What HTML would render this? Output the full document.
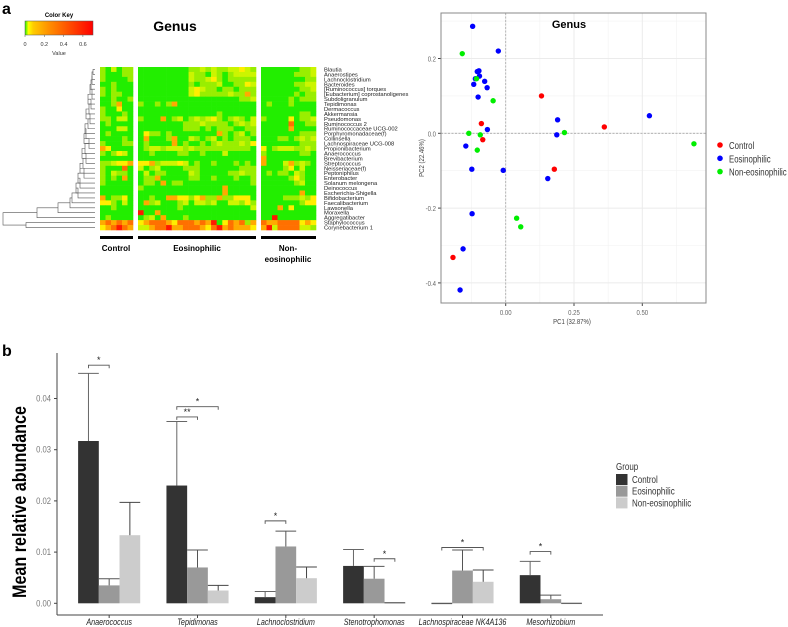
<!DOCTYPE html>
<html><head><meta charset="utf-8"><style>
html,body{margin:0;padding:0;background:#fff;}
svg{display:block;font-family:"Liberation Sans",Arial,sans-serif;}
</style></head><body>
<svg id="fig" width="788" height="627" viewBox="0 0 788 627" xmlns="http://www.w3.org/2000/svg">
<text x="2" y="14" font-size="16" font-weight="bold">a</text>
<text x="2" y="356" font-size="16" font-weight="bold">b</text>
<g id="heat"></g>
<g id="pca"></g>
<g id="bars"></g>
</svg>
<script>
const NS="http://www.w3.org/2000/svg";
function mk(p,t,a,txt){const e=document.createElementNS(NS,t);for(const k in a)e.setAttribute(k,a[k]);if(txt!==undefined)e.textContent=txt;p.appendChild(e);return e;}
function narrow(e,f){const w=e.getComputedTextLength();if(w>0){e.setAttribute('textLength',(w*f).toFixed(1));e.setAttribute('lengthAdjust','spacingAndGlyphs');}return e;}

/* ---------- HEATMAP DATA ---------- */
const genera=["Blautia","Anaerostipes","Lachnoclostridium","Bacteroides","[Ruminococcus] torques","[Eubacterium] coprostanoligenes","Subdoligranulum","Tepidimonas","Dermacoccus","Akkermansia","Pseudomonas","Ruminococcus 2","Ruminococcaceae UCG-002","Porphyromonadaceae(f)","Collinsella","Lachnospiraceae UCG-008","Propionibacterium","Anaerococcus","Brevibacterium","Streptococcus","Neisseriaceae(f)","Peptoniphilus","Enterobacter","Solanum melongena","Deinococcus","Escherichia-Shigella","Bifidobacterium","Faecalibacterium","Lawsonella","Moraxella","Aggregatibacter","Staphylococcus","Corynebacterium 1"];
const controlLevels=["102011","100011","100001","001000","101000","101100","001001","001400","100300","100010","110220","010000","000220","010000","000010","100011","430000","101320","000000","112334","100050","102110","101040","100000","000000","000000","401130","331020","001000","000000","010000","454545","345654"];
const eosLevels=["000000000112121122321","000000000211021012222","000000000211231011111","000000000101112001132","000000000232110110111","000000000231111121141","000000000000000000112","100101400000000000000","000000000000000000000","000000000000001000000","100040120121231012102","000000001112111101212","000000001110101110011","031101000000004101201","040001400210120101110","010000401001012111213","012212221211111111110","001000011001000200000","000000000000000000000","334122232010010001010","201200001110000000111","020110000210000011211","011400000110010001001","011040110000000000001","100000000000000400000","000000000000000400000","001004433134114113330","041200012022120022131","000000010000000000002","600400000000000000000","012040001000000000000","345554355545460354514","224556445554356454443"];
const nonLevels=["0000000112","0000001112","0000000011","0000001122","0000000112","0000001011","0000010111","0100010000","0000000000","0000000110","1000030112","0000050011","0000040000","0000000111","0001101212","0000000111","3012221121","1000000110","4000000000","4000241210","0000130200","0101102100","0000013100","0000001200","0000000000","0000000400","0000111213","0000000133","0004030000","0000000000","0060000000","5445555343","4625555221"];
const mergeX=[93,92,92,91,90,92,88,91,89,86,90,88,85,86,84,89,85,82,86,83,80,84,78,80,76,78,72,70,58,37,26];

(function(){
 const g=document.getElementById('heat');
 const pal=["#22ee00","#99ee00","#ccf500","#ffee00","#ffaa00","#ff7000","#ff1800"];
 const grad=mk(g,'defs',{});
 const lg=mk(grad,'linearGradient',{id:'ck',x1:0,x2:1,y1:0,y2:0});
 [[0,"#22ee00"],[0.05,"#ffff00"],[0.12,"#ffcc00"],[0.35,"#ff9000"],[1,"#ff0000"]].forEach(s=>mk(lg,'stop',{offset:s[0],'stop-color':s[1]}));
 const key=mk(g,'g',{});
 
 
 mk(key,'text',{x:59,y:17,'font-size':6,'font-weight':'bold','text-anchor':'middle'},'Color Key');
 mk(key,'rect',{x:25,y:21,width:68,height:14,fill:'url(#ck)',stroke:'#555','stroke-width':0.5});
 ["0","0.2","0.4","0.6"].forEach((t,i)=>{const x=25+i*19.3;mk(key,'line',{x1:x,x2:x,y1:35,y2:37,stroke:'#555','stroke-width':0.5});mk(key,'text',{x:x,y:46,'font-size':5.5,'text-anchor':'middle',fill:'#333'},t);});
 mk(key,'text',{x:59,y:55,'font-size':5.5,'text-anchor':'middle',fill:'#333'},'Value');
 mk(g,'text',{x:175,y:31,'font-size':14,'font-weight':'bold','text-anchor':'middle'},'Genus');
 const y0=67,rh=163/33;
 const blocks=[{x0:100,x1:133,d:controlLevels,n:6},{x0:138,x1:256,d:eosLevels,n:21},{x0:261,x1:316,d:nonLevels,n:10}];
 blocks.forEach((b,bi)=>{
  const cw=(b.x1-b.x0)/b.n;
  b.d.forEach((row,r)=>{
   const s=row.padEnd(b.n,'0').slice(0,b.n);
   for(let c=0;c<b.n;c++){
    const cell=mk(g,'rect',{x:(b.x0+c*cw).toFixed(2),y:(y0+r*rh).toFixed(2),width:(cw+0.3).toFixed(2),height:(rh+0.3).toFixed(2),fill:pal[+s[c]]});
    
    
   }
  });
 });
 genera.forEach((n,r)=>{const t=mk(g,'text',{x:324,y:(y0+r*rh+rh*0.5+2).toFixed(2),'font-size':5.8,fill:'#222'},n);
  
  });
 [[100,133,'Control',116],[138,256,'Eosinophilic',197]].forEach(a=>{mk(g,'rect',{x:a[0],y:236,width:a[1]-a[0],height:3,fill:'#000'});mk(g,'text',{x:a[3],y:251,'font-size':8,'font-weight':'bold','text-anchor':'middle'},a[2]);});
 mk(g,'rect',{x:261,y:236,width:55,height:3,fill:'#000'});
 mk(g,'text',{x:288,y:251,'font-size':8,'font-weight':'bold','text-anchor':'middle'},'Non-');
 mk(g,'text',{x:288,y:262,'font-size':8,'font-weight':'bold','text-anchor':'middle'},'eosinophilic');
 const dg=mk(g,'g',{stroke:'#555','stroke-width':0.6,fill:'none'});
 
 
 const ly=i=>y0+i*rh+rh/2;
 let cur={x:95,y:ly(0)};
 for(let i=1;i<=30;i++){
  const mx=mergeX[i-1];
  mk(dg,'path',{d:`M${cur.x},${cur.y}H${mx}V${ly(i)}H95`});
  cur={x:mx,y:(cur.y+ly(i))/2};
 }
 const pm=mergeX[30];
 mk(dg,'path',{d:`M95,${ly(31)}H${pm}V${ly(32)}H95`});
 mk(dg,'path',{d:`M${cur.x},${cur.y}H3V${(ly(31)+ly(32))/2}H${pm}`});
})();

/* ---------- PCA DATA ---------- */
const pcaGroups=["Control","Eosinophilic","Non-eosinophilic"];
const ctrlPC1=[0.131,-0.089,-0.084,0.178,0.361,-0.193];
const ctrlPC2=[0.100,0.026,-0.017,-0.096,0.017,-0.332];
const eosPC1=[-0.121,-0.027,-0.104,-0.098,-0.096,-0.111,-0.117,-0.077,-0.068,-0.101,-0.067,-0.146,-0.124,-0.009,-0.123,-0.156,-0.167,0.190,0.187,0.154,0.526];
const eosPC2=[0.286,0.220,0.165,0.167,0.153,0.146,0.131,0.139,0.122,0.097,0.010,-0.034,-0.096,-0.099,-0.215,-0.309,-0.419,0.036,-0.004,-0.121,0.047];
const nonPC1=[-0.159,-0.107,-0.046,-0.135,-0.093,-0.104,0.215,0.689,0.040,0.055];
const nonPC2=[0.213,0.146,0.087,0.000,-0.004,-0.045,0.002,-0.028,-0.227,-0.250];
const pcaXTicks=[0,0.25,0.5];
const pcaYTicks=[0.2,0,-0.2,-0.4];

(function(){
 const g=document.getElementById('pca');
 const L=441,R=706,T=13,B=303;
 const sx=v=>505.7+v*273.2, sy=v=>133.3-v*374;
 mk(g,'rect',{x:L,y:T,width:R-L,height:B-T,fill:'#fff'});
 [-0.125,0.125,0.375,0.625].forEach(v=>mk(g,'line',{x1:sx(v),x2:sx(v),y1:T,y2:B,stroke:'#f2f2f2','stroke-width':0.6}));
 [0.3,0.1,-0.1,-0.3].forEach(v=>mk(g,'line',{x1:L,x2:R,y1:sy(v),y2:sy(v),stroke:'#f2f2f2','stroke-width':0.6}));
 pcaXTicks.forEach(v=>{mk(g,'line',{x1:sx(v),x2:sx(v),y1:T,y2:B,stroke:'#ebebeb','stroke-width':1});mk(g,'line',{x1:sx(v),x2:sx(v),y1:B,y2:B+3,stroke:'#444'});narrow(mk(g,'text',{x:sx(v),y:B+12,'font-size':7.5,'text-anchor':'middle',fill:'#666'},v.toFixed(2)),0.8);});
 pcaYTicks.forEach(v=>{mk(g,'line',{x1:L,x2:R,y1:sy(v),y2:sy(v),stroke:'#ebebeb','stroke-width':1});mk(g,'line',{x1:L-3,x2:L,y1:sy(v),y2:sy(v),stroke:'#444'});narrow(mk(g,'text',{x:L-5,y:sy(v)+3,'font-size':7.5,'text-anchor':'end',fill:'#666'},v.toFixed(1)),0.8);});
 mk(g,'line',{x1:sx(0),x2:sx(0),y1:T,y2:B,stroke:'#aaa','stroke-dasharray':'2,1.5','stroke-width':0.8});
 mk(g,'line',{x1:L,x2:R,y1:sy(0),y2:sy(0),stroke:'#aaa','stroke-dasharray':'2,1.5','stroke-width':0.8});
 mk(g,'rect',{x:L,y:T,width:R-L,height:B-T,fill:'none',stroke:'#888','stroke-width':1});
 mk(g,'text',{x:569,y:28,'font-size':11,'font-weight':'bold','text-anchor':'middle'},'Genus');
 narrow(mk(g,'text',{x:572,y:324,'font-size':7.5,'text-anchor':'middle',fill:'#444'},'PC1 (32.87%)'),0.8);
 narrow(mk(g,'text',{x:0,y:0,'font-size':7.5,'text-anchor':'middle',fill:'#444',transform:`translate(424,158) rotate(-90)`},'PC2 (22.46%)'),0.8);
 const cols=["#ff0000","#0000ff","#00ee00"];
 const sets=[[ctrlPC1,ctrlPC2],[eosPC1,eosPC2],[nonPC1,nonPC2]];
 sets.forEach((s,k)=>s[0].forEach((v,i)=>{const c=mk(g,'circle',{cx:sx(v),cy:sy(s[1][i]),r:2.7,fill:cols[k]});
  
  }));
 pcaGroups.forEach((n,k)=>{const lg=mk(g,'g',{});
  
  
  mk(lg,'circle',{cx:720,cy:145+k*13.3,r:2.8,fill:cols[k]});narrow(mk(lg,'text',{x:729,y:149+k*13.3,'font-size':10,fill:'#333'},n),0.78);});
})();

/* ---------- BAR CHART DATA ---------- */
const barCategories=["Anaerococcus","Tepidimonas","Lachnoclostridium","Stenotrophomonas","Lachnospiraceae NK4A136","Mesorhizobium"];
const barGroups=["Control","Eosinophilic","Non-eosinophilic"];
const controlMean=[0.0317,0.0230,0.0012,0.0073,0.0000,0.0055];
const controlErr=[0.0449,0.0355,0.0023,0.0105,0.0000,0.0082];
const eosMean=[0.0035,0.0070,0.0111,0.0048,0.0064,0.0008];
const eosErr=[0.0048,0.0104,0.0141,0.0072,0.0104,0.0016];
const nonMean=[0.0133,0.0025,0.0049,0.0001,0.0042,0.0000];
const nonErr=[0.0197,0.0035,0.0071,0.0001,0.0065,0.0000];
const yTicks=[0,0.01,0.02,0.03,0.04];
const sigCat=[0,1,1,2,3,4,5];
const sigFrom=[0,0,0,0,1,0,0];
const sigTo=[1,1,2,1,2,2,1];
const sigLabel=["*","**","*","*","*","*","*"];
const sigLevel=[0.0465,0.0364,0.0384,0.0161,0.0087,0.0109,0.0101];

(function(){
 const g=document.getElementById('bars');
 const L=57,R=603,B=615;
 const y=v=>603.3-v*5120;
 const band=(R-L-16)/barCategories.length;
 const cx=i=>L+8+band*(i+0.5);
 const bw=20.7;
 const bx=(i,k)=>cx(i)+(k-1.5)*bw;
 mk(g,'line',{x1:L,x2:L,y1:353,y2:B,stroke:'#444','stroke-width':1});
 mk(g,'line',{x1:L,x2:R,y1:B,y2:B,stroke:'#444','stroke-width':1});
 yTicks.forEach(v=>{mk(g,'line',{x1:L-3,x2:L,y1:y(v),y2:y(v),stroke:'#444'});
  const t=mk(g,'text',{x:L-6,y:y(v)+3,'font-size':9,'text-anchor':'end',fill:'#777'},v.toFixed(2));
  narrow(t,0.85);
  
  });
 const yt=mk(g,'text',{x:0,y:0,'font-size':19,'font-weight':'bold','text-anchor':'middle',transform:'translate(26,502) rotate(-90)'},'Mean relative abundance');
 yt.setAttribute('textLength','192');
 yt.setAttribute('lengthAdjust','spacingAndGlyphs');
 
 
 const fills=["#333333","#999999","#cccccc"];
 const means=[controlMean,eosMean,nonMean], errs=[controlErr,eosErr,nonErr];
 const errCol=["#666","#555","#444"];
 barCategories.forEach((c,i)=>{
  mk(g,'line',{x1:cx(i),x2:cx(i),y1:B,y2:B+3,stroke:'#444'});
  const t=mk(g,'text',{x:cx(i),y:B+10,'font-size':9,'font-style':'italic','text-anchor':'middle',fill:'#222'},c);
  narrow(t,0.8);
  
  
  for(let k=0;k<3;k++){
   const m=means[k][i], e=errs[k][i], x=bx(i,k);
   const r=mk(g,'rect',{x:x,y:y(m),width:bw,height:Math.max(0.8,y(0)-y(m)),fill:fills[k]});
   
   
   const mid=x+bw/2;
   if(e>m) mk(g,'line',{x1:mid,x2:mid,y1:y(e),y2:y(m),stroke:errCol[k],'stroke-width':1});
   mk(g,'line',{x1:x,x2:x+bw,y1:y(e),y2:y(e),stroke:errCol[k],'stroke-width':1});
  }
 });
 sigCat.forEach((c,j)=>{
  const x1=bx(c,sigFrom[j])+bw/2, x2=bx(c,sigTo[j])+bw/2, yy=y(sigLevel[j]);
  const s=mk(g,'path',{d:`M${x1},${yy+3}V${yy}H${x2}V${yy+3}`,stroke:'#555',fill:'none','stroke-width':0.9});
  
  
  mk(g,'text',{x:(x1+x2)/2,y:yy-2,'font-size':9,'text-anchor':'middle',fill:'#222'},sigLabel[j]);
 });
 narrow(mk(g,'text',{x:616,y:470,'font-size':10,fill:'#333'},'Group'),0.8);
 barGroups.forEach((n,k)=>{const lg=mk(g,'g',{});
  
  
  mk(lg,'rect',{x:616,y:474+k*11.7,width:11.5,height:11,fill:fills[k]});
  narrow(mk(lg,'text',{x:632,y:483+k*11.7,'font-size':10,fill:'#333'},n),0.8);});
})();
</script>
</body></html>
